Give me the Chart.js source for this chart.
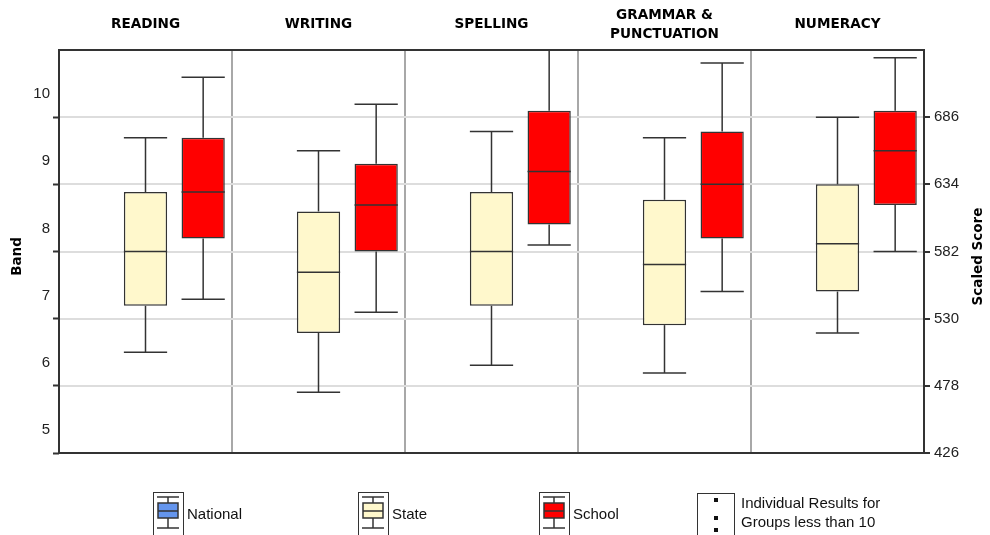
<!DOCTYPE html>
<html>
<head>
<meta charset="utf-8">
<script src="https://cdn.jsdelivr.net/npm/chart.js@4/dist/chart.umd.min.js"></script>
<style>
    html, body { margin: 0; padding: 0; background: #fff; }
    #wrap { width: 990px; height: 535px; }
</style>
</head>
<body>
<div id="wrap"><canvas id="app-chart" width="990" height="535"></canvas></div>
<script>
//======================================================================================================================
// Data (scaled scores)
//======================================================================================================================

var categories = ['READING', 'WRITING', 'SPELLING', ['GRAMMAR &', 'PUNCTUATION'], 'NUMERACY'];

var stateMin    = [504, 473, 494, 488, 519];
var stateQ1     = [540, 519, 540, 525, 551];
var stateMedian = [582, 566, 582, 572, 588];
var stateQ3     = [628, 613, 628, 622, 634];
var stateMax    = [670, 660, 675, 670, 686];

var schoolMin    = [545, 535, 587, 551, 582];
var schoolQ1     = [592, 582, 603, 592, 618];
var schoolMedian = [628, 618, 644, 634, 660];
var schoolQ3     = [670, 650, 691, 675, 691];
var schoolMax    = [717, 696, 745, 728, 732];

var bandTicks  = [5, 6, 7, 8, 9, 10];
var scoreTicks = [426, 478, 530, 582, 634, 686];

var seriesLabels = ['National', 'State', 'School'];
var seriesColors = ['#6495ed', '#fff8cc', '#ff0000'];
var noteLines    = ['Individual Results for', 'Groups less than 10'];

//======================================================================================================================
// Helpers
//======================================================================================================================

function toBoxes(q1, q3) {
    return q1.map(function(v, i) { return [v, q3[i]]; });
}

function line(ctx, x1, y1, x2, y2) {
    ctx.beginPath();
    ctx.moveTo(x1, y1);
    ctx.lineTo(x2, y2);
    ctx.stroke();
}

function drawMiniBox(ctx, x, top, color) {
    // little box plot icon used in the legend
    var cx = x + 15;
    ctx.strokeStyle = '#333';
    ctx.lineWidth = 1;
    ctx.strokeRect(x + 0.5, top + 0.5, 30, 50);
    ctx.lineWidth = 1.5;
    line(ctx, x + 4, top + 5, x + 26, top + 5);
    line(ctx, cx, top + 5, cx, top + 11);
    ctx.fillStyle = color;
    ctx.fillRect(x + 5, top + 11, 20, 15);
    ctx.strokeRect(x + 5, top + 11, 20, 15);
    line(ctx, x + 5, top + 19, x + 25, top + 19);
    line(ctx, cx, top + 26, cx, top + 36);
    line(ctx, x + 4, top + 36, x + 26, top + 36);
}

//======================================================================================================================
// Whiskers, medians, frame, axis titles, legend
//======================================================================================================================

var boxPlotExtras = {
    id: 'boxPlotExtras',
    beforeDatasetsDraw: function(chart) {
        var ctx = chart.ctx, a = chart.chartArea;
        ctx.save();
        ctx.strokeStyle = '#333';
        ctx.lineWidth = 2;
        ctx.strokeRect(a.left, a.top, a.right - a.left, a.bottom - a.top);
        ctx.restore();
    },
    afterDatasetsDraw: function(chart) {
        var ctx = chart.ctx, a = chart.chartArea, y = chart.scales.score;
        ctx.save();
        ctx.beginPath();
        ctx.rect(a.left, a.top, a.right - a.left, a.bottom - a.top);
        ctx.clip();
        ctx.strokeStyle = '#333';
        ctx.lineWidth = 1.5;
        chart.data.datasets.forEach(function(ds, di) {
            var s = ds.whiskers;
            if (!s) return;
            chart.getDatasetMeta(di).data.forEach(function(bar, i) {
                var half = bar.width / 2, x = bar.x;
                var pMax = y.getPixelForValue(s.max[i]);
                var pQ3 = y.getPixelForValue(s.q3[i]);
                var pMed = y.getPixelForValue(s.median[i]);
                var pQ1 = y.getPixelForValue(s.q1[i]);
                var pMin = y.getPixelForValue(s.min[i]);
                line(ctx, x, pQ3, x, pMax);
                line(ctx, x - half, pMax, x + half, pMax);
                line(ctx, x, pQ1, x, pMin);
                line(ctx, x - half, pMin, x + half, pMin);
                line(ctx, x - half, pMed, x + half, pMed);
            });
        });
        ctx.restore();
    },
    afterDraw: function(chart) {
        var ctx = chart.ctx;
        var left = chart.scales.band, right = chart.scales.score;
        var mid = (chart.chartArea.top + chart.chartArea.bottom) / 2 + 5;

        ctx.save();
        ctx.fillStyle = '#000';
        ctx.font = 'bold 13.5px "DejaVu Sans"';
        ctx.textAlign = 'center';
        ctx.textBaseline = 'middle';
        [[17, left.options.title.text], [978, right.options.title.text]].forEach(function(t) {
            ctx.save();
            ctx.translate(t[0], mid);
            ctx.rotate(-Math.PI / 2);
            ctx.fillText(t[1], 0, 0);
            ctx.restore();
        });

        // legend
        var slots = [153, 358, 539];
        ctx.font = '15px "Liberation Sans"';
        ctx.textAlign = 'left';
        chart.data.datasets.forEach(function(ds, i) {
            drawMiniBox(ctx, slots[i], 492, ds.backgroundColor);
            ctx.fillStyle = '#111';
            ctx.fillText(ds.label, slots[i] + 34, 515);
        });

        ctx.strokeStyle = '#333';
        ctx.lineWidth = 1;
        ctx.strokeRect(697.5, 493.5, 37, 50);
        ctx.fillStyle = '#111';
        [500, 518, 530].forEach(function(dy) { ctx.fillRect(714, dy - 2, 4, 4); });
        ctx.fillText(noteLines[0], 741, 504);
        ctx.fillText(noteLines[1], 741, 523);
        ctx.restore();
    }
};

//======================================================================================================================
// Chart
//======================================================================================================================

var tickFont = { family: '"Liberation Sans"', size: 15 };
var barStyle = { yAxisID: 'score', borderColor: '#333', borderWidth: 1.5, borderSkipped: false,
                 barPercentage: 0.75, categoryPercentage: 1.0 };

new Chart(document.getElementById('app-chart'), {
    type: 'bar',
    plugins: [boxPlotExtras],
    data: {
        labels: categories,
        datasets: [
            Object.assign({
                label: seriesLabels[0],
                data: categories.map(function() { return null; }),
                backgroundColor: seriesColors[0]
            }, barStyle),
            Object.assign({
                label: seriesLabels[1],
                data: toBoxes(stateQ1, stateQ3),
                backgroundColor: seriesColors[1],
                whiskers: { min: stateMin, q1: stateQ1, median: stateMedian, q3: stateQ3, max: stateMax }
            }, barStyle),
            Object.assign({
                label: seriesLabels[2],
                data: toBoxes(schoolQ1, schoolQ3),
                backgroundColor: seriesColors[2],
                whiskers: { min: schoolMin, q1: schoolQ1, median: schoolMedian, q3: schoolQ3, max: schoolMax }
            }, barStyle)
        ]
    },
    options: {
        responsive: false,
        animation: false,
        layout: { padding: { top: 0, left: 0, right: 0, bottom: 82 } },
        plugins: {
            legend: { display: false },
            tooltip: { enabled: false }
        },
        scales: {
            x: {
                type: 'category',
                position: 'top',
                afterFit: function(scale) { scale.height = 50; },
                border: { display: false },
                grid: { offset: true, color: '#a8a8a8', lineWidth: 2, drawTicks: false },
                ticks: {
                    color: '#000',
                    font: { family: '"DejaVu Sans"', size: 13.6, weight: 'bold', lineHeight: 1.35 },
                    crossAlign: 'center',
                    padding: 16,
                    maxRotation: 0,
                    autoSkip: false
                }
            },
            band: {
                type: 'linear',
                position: 'left',
                min: 5,
                max: 11,
                afterFit: function(scale) { scale.width = 59; },
                afterBuildTicks: function(scale) {
                    scale.ticks = bandTicks.map(function(v) { return { value: v }; });
                },
                title: { display: false, text: 'Band' },
                border: { display: false },
                grid: { drawOnChartArea: false, tickColor: '#333', tickLength: 6, tickWidth: 2 },
                ticks: { color: '#222', font: tickFont, padding: 3, labelOffset: -23 }
            },
            score: {
                type: 'linear',
                position: 'right',
                min: 426,
                max: 738,
                afterFit: function(scale) { scale.width = 66; },
                afterBuildTicks: function(scale) {
                    scale.ticks = scoreTicks.map(function(v) { return { value: v }; });
                },
                title: { display: false, text: 'Scaled Score' },
                border: { display: false },
                grid: { color: '#dddddd', lineWidth: 2, tickColor: '#333', tickLength: 6, tickWidth: 2 },
                ticks: { color: '#222', font: tickFont, padding: 4 }
            }
        }
    }
});
</script>
</body>
</html>
